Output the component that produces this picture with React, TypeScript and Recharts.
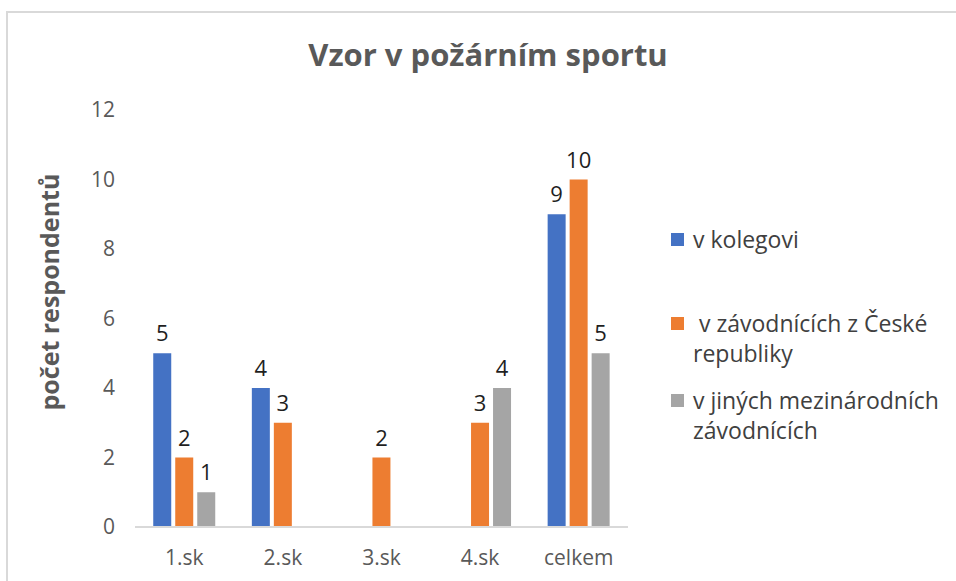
import React from "react";
import { BarChart, Bar, XAxis, YAxis, LabelList } from "recharts";

const categories = ["1.sk", "2.sk", "3.sk", "4.sk", "celkem"];
const kolegovi = [5, 4, 0, 0, 9];
const zavodniciCR = [2, 3, 2, 3, 10];
const mezinarodni = [1, 0, 0, 4, 5];
const yTicks = [0, 2, 4, 6, 8, 10, 12];

const series = [
  { key: "kolegovi", name: "v kolegovi", color: "#4472C4", values: kolegovi },
  { key: "cr", name: " v závodnících z České republiky", color: "#ED7D31", values: zavodniciCR },
  { key: "mez", name: "v jiných mezinárodních závodnících", color: "#A5A5A5", values: mezinarodni },
];

const data = categories.map((c, i) => {
  const row: Record<string, string | number> = { cat: c };
  series.forEach((s) => (row[s.key] = s.values[i]));
  return row;
});

const FONT = "'Open Sans', sans-serif";
const legendTops = [224, 308, 385];

export default function App() {
  return (
    <div style={{ position: "absolute", left: 0, top: 0, width: 956, height: 581, background: "#fff", fontFamily: FONT }}>
      <div
        style={{
          position: "absolute",
          left: 6,
          top: 11,
          width: 950,
          height: 570,
          borderLeft: "2px solid #d9d9d9",
          borderTop: "2px solid #d9d9d9",
        }}
      />
      <div
        style={{
          position: "absolute",
          left: 0,
          width: 976,
          top: 33,
          textAlign: "center",
          fontSize: 31,
          fontWeight: 700,
          color: "#595959",
        }}
      >
        Vzor v požárním sportu
      </div>
      <BarChart
        width={956}
        height={581}
        data={data}
        margin={{ top: 110, right: 328, bottom: 24, left: 75 }}
        barCategoryGap="18.5%"
        barGap={4}
        style={{ position: "absolute", left: 0, top: 0 }}
      >
        <XAxis
          dataKey="cat"
          height={30}
          tickLine={false}
          axisLine={{ stroke: "#d9d9d9", strokeWidth: 2 }}
          tick={{ fill: "#595959", fontSize: 21, fontFamily: FONT }}
          tickMargin={17}
        />
        <YAxis
          domain={[0, 12]}
          ticks={yTicks}
          width={60}
          axisLine={false}
          tickLine={false}
          tickMargin={14}
          tick={{ fill: "#595959", fontSize: 21, fontFamily: FONT }}
          label={{
            value: "počet respondentů",
            angle: -90,
            position: "insideLeft",
            dx: -30,
            dy: 92,
            style: { fill: "#595959", fontSize: 25, fontWeight: 700, fontFamily: FONT },
          }}
        />
        {series.map((s) => (
          <Bar key={s.key} dataKey={s.key} name={s.name} fill={s.color} isAnimationActive={false}>
            <LabelList
              dataKey={s.key}
              position="top"
              offset={12}
              formatter={(v: any) => (v ? v : "")}
              style={{ fill: "#1f1f1f", fontSize: 22, fontFamily: FONT }}
            />
          </Bar>
        ))}
      </BarChart>
      {series.map((s, i) => (
        <div
          key={s.key}
          style={{
            position: "absolute",
            left: 671,
            top: legendTops[i],
            width: 285,
            display: "flex",
            alignItems: "flex-start",
          }}
        >
          <span style={{ width: 13, height: 13, background: s.color, marginTop: 9, flex: "none" }} />
          <span
            style={{
              marginLeft: 9,
              width: 268,
              fontSize: 23,
              lineHeight: "30px",
              color: "#404040",
              whiteSpace: "pre-wrap",
            }}
          >
            {s.name}
          </span>
        </div>
      ))}
    </div>
  );
}
